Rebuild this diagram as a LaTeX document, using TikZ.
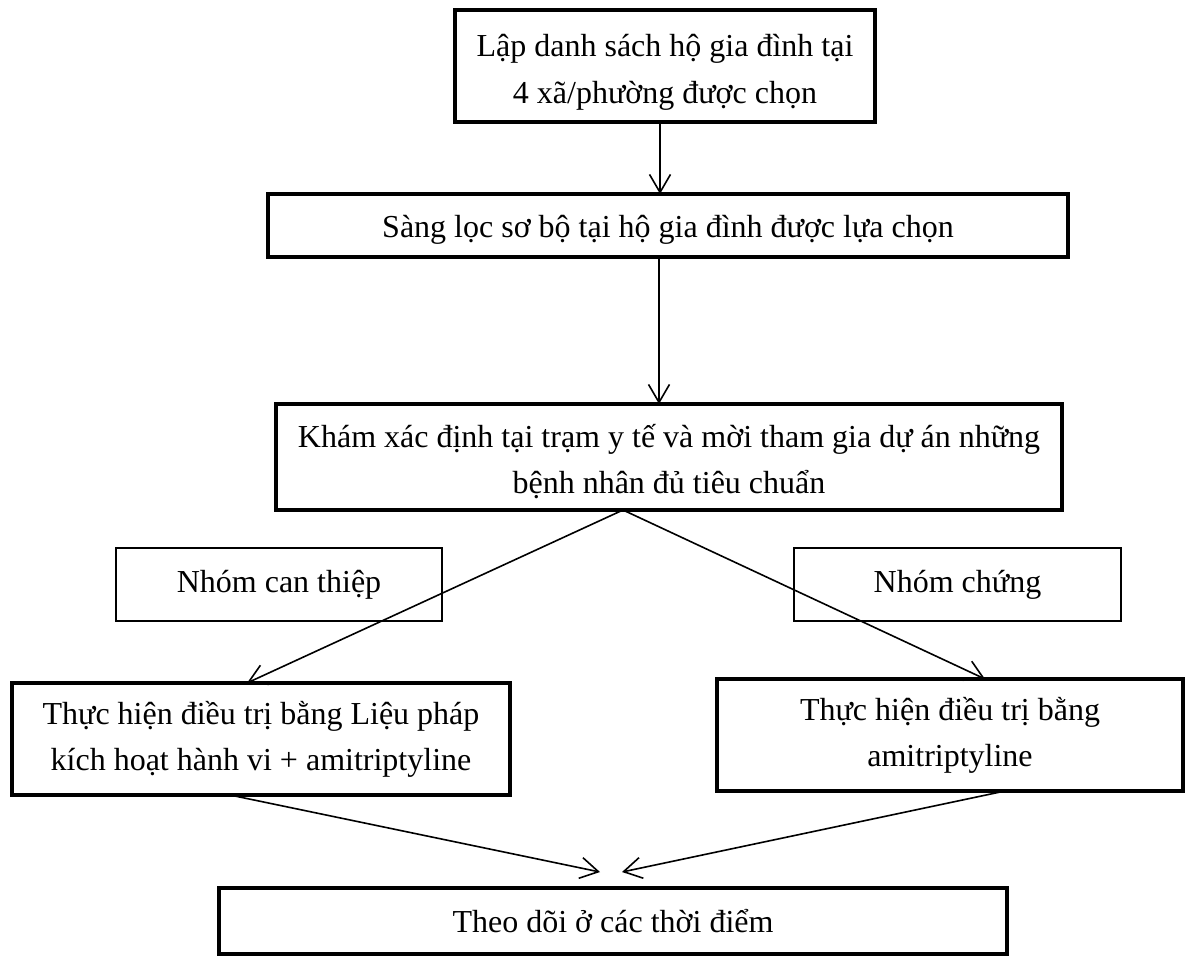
\documentclass[tikz,border=0pt]{standalone}
\usepackage{fontspec}
\setmainfont{Liberation Serif}
\usetikzlibrary{arrows.meta}
\begin{document}
\begin{tikzpicture}[x=1pt,y=-1pt,
  boxtext/.style={inner sep=0pt, outer sep=0pt, align=center, font=\fontsize{32}{46}\selectfont},
  thickbox/.style={draw, line width=4.8pt, inner sep=0pt, outer sep=0pt},
  thinbox/.style={boxtext, draw, line width=1.3pt},
  conn/.style={line width=1.6pt, -{Straight Barb[length=18pt,width=21pt,line width=1.6pt]}}]
\useasboundingbox (0,0) rectangle (1192,956);
\node[thickbox, minimum width=420pt, minimum height=112pt] (b1) at (665,66) {};
\node[boxtext, font=\fontsize{32}{47}\selectfont] (t1) at ([yshift=-6pt]b1.center)
  {Lập danh sách hộ gia đình tại\\4 xã/phường được chọn};
\node[thickbox, minimum width=800pt, minimum height=63pt] (b2) at (668,225.5) {};
\node[boxtext] (t2) at ([yshift=-4pt]b2.center)
  {Sàng lọc sơ bộ tại hộ gia đình được lựa chọn};
\node[thickbox, minimum width=786pt, minimum height=106pt] (b3) at (669,457) {};
\node[boxtext] (t3) at ([yshift=-5pt]b3.center)
  {Khám xác định tại trạm y tế và mời tham gia dự án những\\bệnh nhân đủ tiêu chuẩn};
\node[thinbox, minimum width=326pt, minimum height=73pt] (g1) at (279,584.5)
  {Nhóm can thiệp};
\node[thinbox, minimum width=327pt, minimum height=73pt] (g2) at (957.5,584.5)
  {Nhóm chứng};
\node[thickbox, minimum width=498pt, minimum height=112pt] (b4) at (261,739) {};
\node[boxtext] (t4) at (b4.center)
  {Thực hiện điều trị bằng Liệu pháp\\kích hoạt hành vi + amitriptyline};
\node[thickbox, minimum width=466pt, minimum height=112pt] (b5) at (950,735) {};
\node[boxtext] (t5) at (b5.center)
  {Thực hiện điều trị bằng\\amitriptyline};
\node[thickbox, minimum width=788pt, minimum height=66pt] (b6) at (613,921) {};
\node[boxtext] (t6) at (b6.center)
  {Theo dõi ở các thời điểm};
\draw[conn] ([xshift=-5pt]b1.south) -- ([xshift=-8pt]b2.north);
\draw[conn] ([xshift=-9pt]b2.south) -- ([xshift=-10pt]b3.north);
\draw[conn] ([xshift=-46pt]b3.south) -- ([xshift=-14pt]b4.north);
\draw[conn] ([xshift=-46pt]b3.south) -- ([xshift=35pt]b5.north);
\draw[conn] ([xshift=-31pt]b4.south) -- ([xshift=-13pt,yshift=16pt]b6.north);
\draw[conn] ([xshift=55pt]b5.south) -- ([xshift=9pt,yshift=16pt]b6.north);
\end{tikzpicture}
\end{document}
